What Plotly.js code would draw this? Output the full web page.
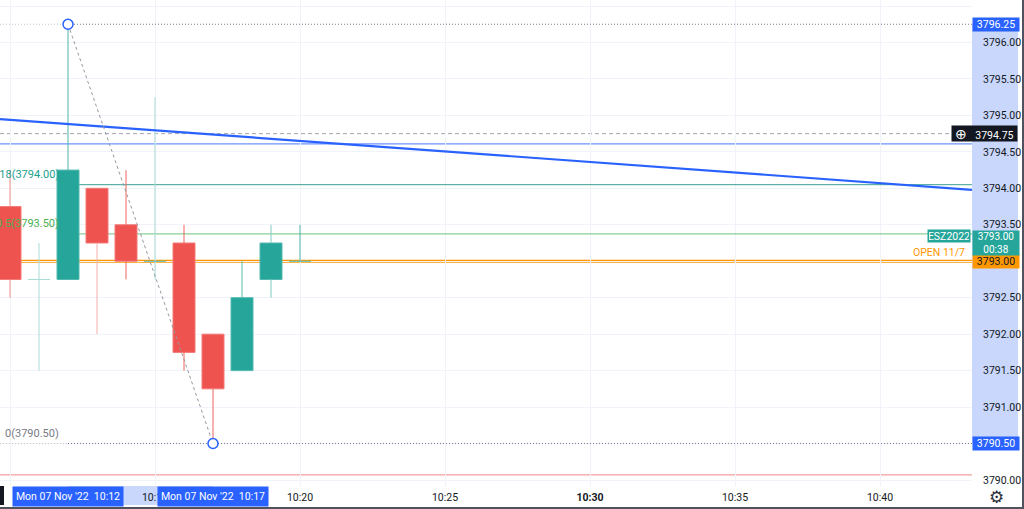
<!DOCTYPE html>
<html>
<head>
<meta charset="utf-8">
<script src="https://cdn.plot.ly/plotly-3.0.1.min.js"></script>
<style>
  html, body { margin: 0; padding: 0; background: #ffffff; }
  #chart { width: 1022px; height: 507px; border-right: 2px solid #50535e; border-bottom: 2px solid #50535e; }
</style>
</head>
<body>
<div id="chart"></div>
<script>
// ---------- data ----------
const TIMES = ['2022-11-07 10:10', '2022-11-07 10:11', '2022-11-07 10:12', '2022-11-07 10:13',
               '2022-11-07 10:14', '2022-11-07 10:15', '2022-11-07 10:16', '2022-11-07 10:17',
               '2022-11-07 10:18', '2022-11-07 10:19', '2022-11-07 10:20'];
const OPEN  = [3793.75, 3792.75, 3792.75, 3794.00, 3793.50, 3793.00, 3793.25, 3792.00, 3791.50, 3792.75, 3793.00];
const HIGH  = [3794.25, 3793.25, 3796.25, 3794.00, 3794.25, 3795.25, 3793.50, 3792.00, 3793.00, 3793.50, 3793.50];
const LOW   = [3792.50, 3791.50, 3792.75, 3792.00, 3792.75, 3792.75, 3791.50, 3790.50, 3791.50, 3792.50, 3793.00];
const CLOSE = [3792.75, 3792.75, 3794.25, 3793.25, 3793.00, 3793.00, 3791.75, 3791.25, 3792.50, 3793.25, 3793.00];

const PRICE_TICKS = [3790.00, 3790.50, 3791.00, 3791.50, 3792.00, 3792.50, 3793.00, 3793.50,
                     3794.00, 3794.50, 3795.00, 3795.50, 3796.00, 3796.50];
const TIME_TICKS = ['2022-11-07 10:10', '2022-11-07 10:15', '2022-11-07 10:20', '2022-11-07 10:25',
                    '2022-11-07 10:30', '2022-11-07 10:35', '2022-11-07 10:40'];
const TIME_TICK_LABELS = ['10:10', '10:15', '10:20', '10:25', '<b>10:30</b>', '10:35', '10:40'];
const X_RANGE = ['2022-11-07 10:09:39.3', '2022-11-07 10:43:10.3'];
const Y_RANGE = [3789.9177, 3796.5826];

// fibonacci retracement drawing
const FIB_TIMES = ['2022-11-07 10:12', '2022-11-07 10:17'];
const FIB_ANCHORS = [3796.25, 3790.50];
const FIB_PRICES = [3790.50, 3793.375, 3794.05, 3796.25];
const FIB_LABELS = ['0(3790.50)', '0.5(3793.50)', '0.618(3794.00)', ''];

// other drawings / levels
const TREND_TIMES = ['2022-11-07 10:09:39.3', '2022-11-07 10:43:10.3'];
const TREND_PRICES = [3794.95, 3793.98];
const HLINE_BLUE = 3794.61;
const HLINE_RED = 3790.07;
const OPEN_LEVEL = 3793.00;
const OPEN_LABEL = 'OPEN 11/7';
const CROSSHAIR_PRICE = 3794.75;
const LAST_PRICE = 3793.00;
const COUNTDOWN = '00:38';
const SYMBOL = 'ESZ2022';
const DATE_LABELS = ["Mon 07 Nov '22", "Mon 07 Nov '22"];
const DATE_LABEL_TIMES = ['10:12', '10:17'];

// ---------- styles ----------
const UP = '#26a69a', DOWN = '#ef5350';
const WICK_COLORS = ['#f28c89', '#a8dbd5', '#4fb5a9', '#f6aeac', '#ef6461', '#a8dbd5',
                     '#ef6461', '#ef6461', '#5cbcb1', '#80cbc2', '#4fb5a9'];
const DOJI_COLORS = ['#a8dbd5', '#4db6ac', '#4db6ac'];
const FONT = 'Roboto, "Liberation Sans", sans-serif';
const BODY_W_MS = 45500;       // body width in time units
const DOJI_HALF_MS = 22700;

function toMs(s) { return Date.parse(s.replace(' ', 'T') + 'Z'); }
function fmt(p) { return p.toFixed(2); }

// ---------- traces ----------
const traces = [];

// bodies
const upX = [], upY = [], upB = [], dnX = [], dnY = [], dnB = [];
TIMES.forEach((t, i) => {
  const o = OPEN[i], c = CLOSE[i];
  if (c > o) { upX.push(t); upY.push(c - o); upB.push(o); }
  else if (c < o) { dnX.push(t); dnY.push(o - c); dnB.push(c); }
});
traces.push({type: 'bar', x: upX, y: upY, base: upB, width: BODY_W_MS,
  marker: {color: UP, line: {color: '#52b9ae', width: 1}}, hoverinfo: 'skip', showlegend: false});
traces.push({type: 'bar', x: dnX, y: dnY, base: dnB, width: BODY_W_MS,
  marker: {color: DOWN, line: {color: '#f27a77', width: 1}}, hoverinfo: 'skip', showlegend: false});

// wicks (outside the bodies)
let dojiIdx = 0;
TIMES.forEach((t, i) => {
  const o = OPEN[i], c = CLOSE[i];
  const top = Math.max(o, c), bot = Math.min(o, c);
  const xs = [], ys = [];
  if (HIGH[i] > top) { xs.push(t, t, null); ys.push(HIGH[i], top, null); }
  if (LOW[i] < bot) { xs.push(t, t, null); ys.push(bot, LOW[i], null); }
  if (xs.length) {
    traces.push({type: 'scatter', mode: 'lines', x: xs, y: ys,
      line: {color: WICK_COLORS[i], width: 1}, hoverinfo: 'skip', showlegend: false});
  }
  if (o === c) {
    const m = toMs(t);
    traces.push({type: 'scatter', mode: 'lines', x: [m - DOJI_HALF_MS, m + DOJI_HALF_MS], y: [o, c],
      line: {color: DOJI_COLORS[dojiIdx++], width: 1}, hoverinfo: 'skip', showlegend: false});
  }
});

// trend line
traces.push({type: 'scatter', mode: 'lines', x: TREND_TIMES, y: TREND_PRICES,
  line: {color: '#2962ff', width: 2.2}, hoverinfo: 'skip', showlegend: false});

// fib diagonal + anchors
traces.push({type: 'scatter', mode: 'lines', x: FIB_TIMES, y: FIB_ANCHORS,
  line: {color: '#9598a1', width: 1, dash: '3px,3px'}, hoverinfo: 'skip', showlegend: false});
traces.push({type: 'scatter', mode: 'markers', x: FIB_TIMES, y: FIB_ANCHORS,
  marker: {color: '#ffffff', size: 10, line: {color: '#2962ff', width: 1.5}}, hoverinfo: 'skip', showlegend: false});

// ---------- shapes ----------
const AXIS_BAND = '#c9d7fd';
const shapes = [
  {type: 'rect', xref: 'paper', yref: 'y', x0: 1, x1: 1 + 46 / 972, y0: FIB_ANCHORS[1], y1: FIB_ANCHORS[0],
   fillcolor: AXIS_BAND, line: {width: 0}, layer: 'below'},
  {type: 'rect', xref: 'x', yref: 'paper', x0: FIB_TIMES[0], x1: FIB_TIMES[1], y0: -19 / 486, y1: 0,
   fillcolor: AXIS_BAND, line: {width: 0}, layer: 'below'},
  {type: 'rect', xref: 'paper', yref: 'paper', x0: 0, x1: 4 / 972, y0: -19 / 486, y1: 0,
   fillcolor: '#131722', line: {width: 0}, layer: 'above'},
  {type: 'line', xref: 'paper', yref: 'y', x0: 0, x1: 1, y0: HLINE_RED, y1: HLINE_RED,
   line: {color: '#f08784', width: 1}, layer: 'between'},
  {type: 'line', xref: 'paper', yref: 'y', x0: 0, x1: 1, y0: HLINE_BLUE, y1: HLINE_BLUE,
   line: {color: '#6e93ff', width: 1.2}, layer: 'between'},
  {type: 'line', xref: 'paper', yref: 'y', x0: 0, x1: 1, y0: CROSSHAIR_PRICE, y1: CROSSHAIR_PRICE,
   line: {color: '#a3a6af', width: 1, dash: '4px,3px'}, layer: 'between'},
  {type: 'line', xref: 'paper', yref: 'y', x0: 0, x1: 1, y0: OPEN_LEVEL, y1: OPEN_LEVEL,
   line: {color: '#ff9800', width: 3}, layer: 'between'},
];
const FIB_LINE_STYLES = [
  {color: '#787b86', width: 1, dash: '1px,2px'},
  {color: '#6fc27a', width: 1},
  {color: '#3aa192', width: 1},
  {color: '#787b86', width: 1, dash: '1px,2px'},
];
FIB_PRICES.forEach((p, k) => {
  shapes.push({type: 'line', xref: 'x', yref: 'y', x0: FIB_TIMES[0], x1: X_RANGE[1], y0: p, y1: p,
    line: FIB_LINE_STYLES[k], layer: 'between'});
  if (k === 0 || k === 3) {
    shapes.push({type: 'line', xref: 'x', yref: 'y', x0: X_RANGE[0], x1: FIB_TIMES[0], y0: p, y1: p,
      line: {color: '#c4c6cc', width: 1, dash: '1px,2px'}, layer: 'between'});
  }
});

// ---------- annotations ----------
const FIB_LABEL_COLORS = ['#787b86', '#4caf50', '#22a08f', '#787b86'];
const annotations = [];
FIB_PRICES.forEach((p, k) => {
  if (!FIB_LABELS[k]) return;
  annotations.push({xref: 'x', yref: 'y', x: FIB_TIMES[0], y: p, xanchor: 'right', yanchor: 'bottom',
    xshift: -7, yshift: 2, text: FIB_LABELS[k], showarrow: false,
    font: {family: FONT, size: 11, color: FIB_LABEL_COLORS[k]}});
});

function priceBox(price, bg, color, opts) {
  return Object.assign({xref: 'paper', yref: 'y', x: 1, y: price, xanchor: 'left', yanchor: 'middle',
    text: fmt(price), showarrow: false, bgcolor: bg, width: 44, height: 11, borderpad: 1,
    align: 'center', font: {family: FONT, size: 10.5, color: color}}, opts || {});
}
annotations.push(priceBox(FIB_ANCHORS[0], '#2962ff', '#ffffff'));
annotations.push(priceBox(FIB_ANCHORS[1], '#2962ff', '#ffffff'));
annotations.push(priceBox(OPEN_LEVEL, '#ff9800', '#131722', {yshift: -0.5}));
annotations.push(priceBox(LAST_PRICE, '#26a69a', '#ffffff',
  {text: fmt(LAST_PRICE) + '<br>' + COUNTDOWN, yanchor: 'bottom', yshift: 5, height: 22,
   font: {family: FONT, size: 10, color: '#ffffff'}}));
annotations.push({xref: 'paper', yref: 'y', x: 1, y: LAST_PRICE, xanchor: 'right', yanchor: 'bottom',
  yshift: 18, xshift: -1, text: SYMBOL, showarrow: false, bgcolor: '#26a69a', width: 40, height: 10, borderpad: 1,
  font: {family: FONT, size: 10.5, color: '#ffffff'}});
annotations.push({xref: 'paper', yref: 'y', x: 1, y: OPEN_LEVEL, xanchor: 'right', yanchor: 'middle',
  yshift: 9, xshift: -5, text: OPEN_LABEL, showarrow: false,
  font: {family: FONT, size: 10.5, color: '#ff9800'}});
annotations.push({xref: 'paper', yref: 'y', x: 1, y: CROSSHAIR_PRICE, xanchor: 'right', yanchor: 'middle',
  xshift: 46, text: '<span style="font-size:14px">⊕</span>   ' + fmt(CROSSHAIR_PRICE), showarrow: false,
  bgcolor: '#131722', width: 63, height: 13, borderpad: 1, align: 'center',
  font: {family: FONT, size: 10.5, color: '#ffffff'}});
DATE_LABEL_TIMES.forEach((tm, k) => {
  annotations.push({xref: 'x', yref: 'paper', x: FIB_TIMES[k], y: 0, xanchor: 'center', yanchor: 'top',
    text: DATE_LABELS[k] + '  ' + tm, showarrow: false, bgcolor: '#2962ff',
    width: 106, height: 15, borderpad: 2, font: {family: FONT, size: 10.5, color: '#ffffff'}});
});
annotations.push({xref: 'paper', yref: 'paper', x: 1 + 24 / 972, y: -11 / 486, xanchor: 'center', yanchor: 'middle',
  text: '⚙', showarrow: false, font: {family: 'DejaVu Sans', size: 17, color: '#2a2e39'}});

// price-axis tick labels that sit under a price label box are hidden, as in the source chart
const HIDDEN_TICK_LABELS = [OPEN_LEVEL, FIB_ANCHORS[1]];
const priceTickText = PRICE_TICKS.map(p => HIDDEN_TICK_LABELS.includes(p) ? '' : fmt(p));

// ---------- layout ----------
const layout = {
  width: 1022, height: 507,
  margin: {l: 0, r: 50, t: 0, b: 21},
  paper_bgcolor: '#ffffff', plot_bgcolor: '#ffffff',
  showlegend: false, hovermode: false, barmode: 'overlay',
  xaxis: {type: 'date', range: X_RANGE, tickvals: TIME_TICKS, ticktext: TIME_TICK_LABELS,
    showgrid: true, gridcolor: '#f0f3fa', zeroline: false, showline: false, ticks: '',
    ticklabelstandoff: 3,
    tickfont: {family: FONT, size: 10.5, color: '#131722'}, fixedrange: true},
  yaxis: {side: 'right', range: Y_RANGE, tickvals: PRICE_TICKS, ticktext: priceTickText,
    showgrid: true, gridcolor: '#f0f3fa', zeroline: false, showline: false, ticks: '',
    ticklabelstandoff: 10,
    tickfont: {family: FONT, size: 10.5, color: '#131722'}, fixedrange: true},
  shapes: shapes,
  annotations: annotations,
};

Plotly.newPlot('chart', traces, layout, {displayModeBar: false, staticPlot: true});
</script>
</body>
</html>
